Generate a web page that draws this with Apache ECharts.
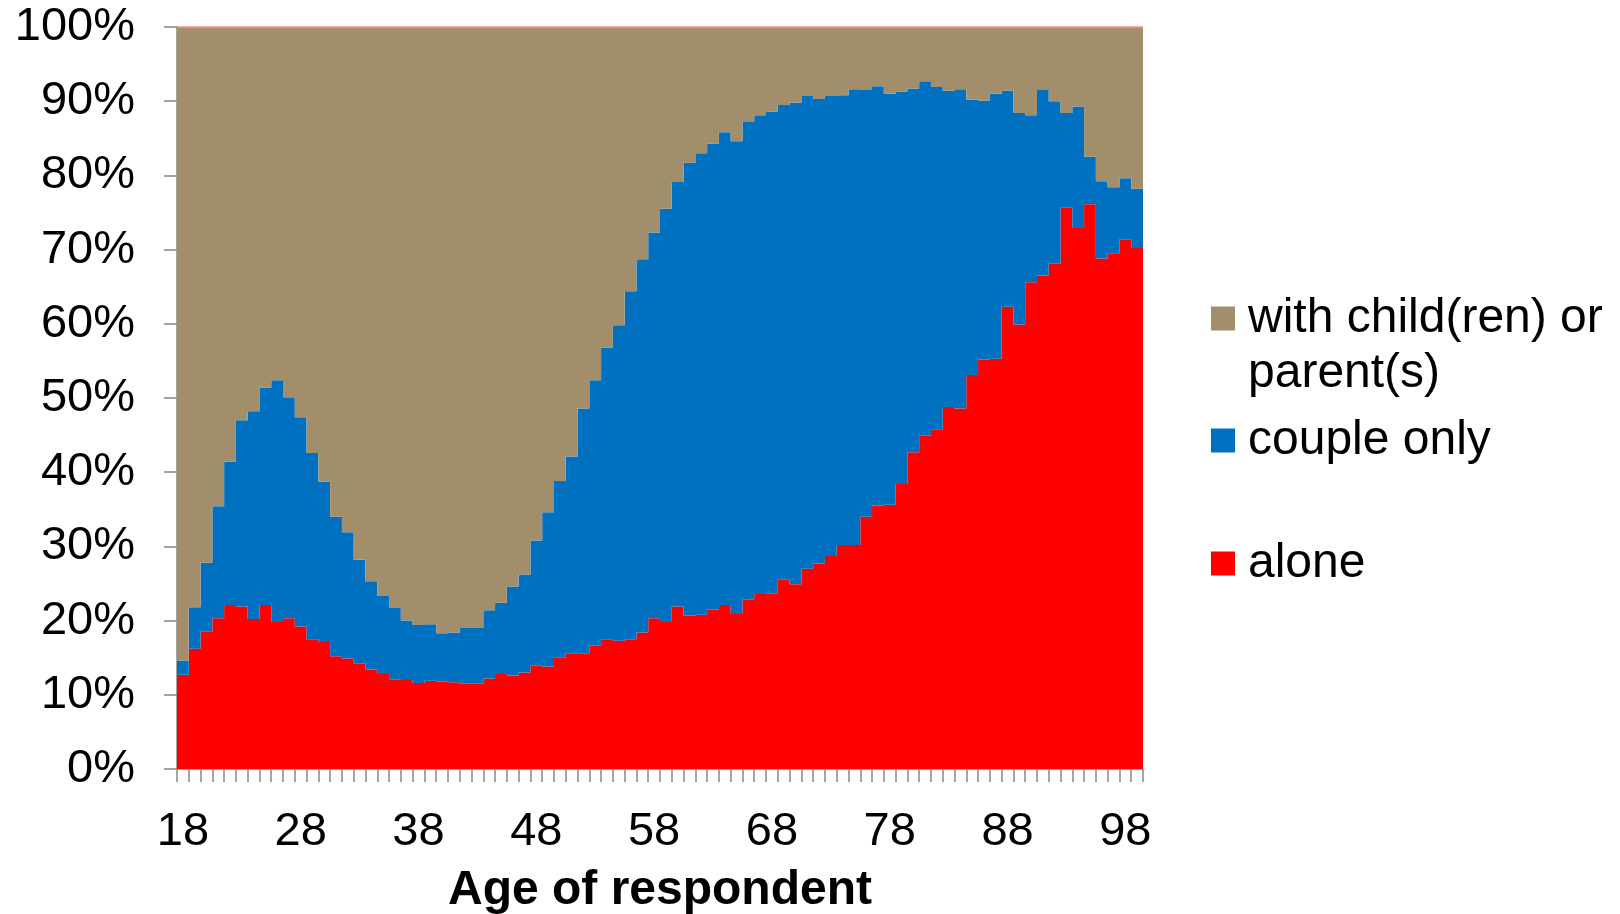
<!DOCTYPE html>
<html>
<head>
<meta charset="utf-8">
<style>
  html, body { margin: 0; padding: 0; background: #fff; }
  #chart { width: 1620px; height: 914px; }
</style>
<script src="https://cdn.jsdelivr.net/npm/echarts@6/dist/echarts.min.js"></script>
</head>
<body>
<div id="chart"></div>
<script>
// age categories 18..99
const ages = ['18','19','20','21','22','23','24','25','26','27','28','29','30','31','32','33','34','35','36','37',
  '38','39','40','41','42','43','44','45','46','47','48','49','50','51','52','53','54','55','56','57',
  '58','59','60','61','62','63','64','65','66','67','68','69','70','71','72','73','74','75','76','77',
  '78','79','80','81','82','83','84','85','86','87','88','89','90','91','92','93','94','95','96','97',
  '98','99'];

// share living alone (%)
const alone = [12.7,16.2,18.5,20.3,22.1,21.9,20.2,22.1,19.8,20.3,19.2,17.5,17.1,15.2,14.9,14.2,13.4,12.8,12.1,12.0,
  11.6,11.9,11.8,11.7,11.5,11.5,12.2,12.8,12.6,13.0,13.9,13.8,15.0,15.6,15.6,16.6,17.5,17.3,17.5,18.4,
  20.3,19.8,21.9,20.7,20.8,21.5,22.1,20.9,22.8,23.6,23.7,25.5,24.9,27.0,27.7,28.7,30.2,30.2,34.0,35.5,
  35.6,38.4,42.7,44.9,45.8,48.8,48.6,53.1,55.2,55.3,62.3,59.9,65.6,66.5,68.1,75.7,72.9,76.1,68.8,69.5,
  71.4,70.2];

// share living as a couple only (%)
const couple = [1.9,5.6,9.3,15.1,19.3,25.1,28.0,29.3,32.6,29.8,28.2,25.1,21.6,18.8,17.0,14.0,11.9,10.5,9.6,8.0,
  7.8,7.6,6.5,6.7,7.5,7.5,9.2,9.6,12.0,13.2,16.9,20.8,23.8,26.5,33.0,35.8,39.3,42.5,46.9,50.3,
  52.0,55.7,57.2,61.0,62.2,62.8,63.7,63.7,64.4,64.5,64.9,64.0,64.9,63.7,62.6,62.0,60.6,61.4,57.5,56.5,
  55.4,52.9,49.0,47.8,46.1,42.6,43.0,37.1,34.9,35.7,29.1,28.5,22.5,25.0,21.9,12.7,16.4,6.4,10.4,8.9,
  8.2,8.0];

// share living with child(ren) or parent(s) (%)
const withChild = [85.4,78.2,72.2,64.6,58.6,53.0,51.8,48.6,47.6,49.9,52.6,57.4,61.3,66.0,68.1,71.8,74.7,76.7,78.3,80.0,
  80.6,80.5,81.7,81.6,81.0,81.0,78.6,77.6,75.4,73.8,69.2,65.4,61.2,57.9,51.4,47.6,43.2,40.2,35.6,31.3,
  27.7,24.5,20.9,18.3,17.0,15.7,14.2,15.4,12.8,11.9,11.4,10.5,10.2,9.3,9.7,9.3,9.2,8.4,8.5,8.0,
  9.0,8.7,8.3,7.3,8.1,8.6,8.4,9.8,9.9,9.0,8.6,11.6,11.9,8.5,10.0,11.6,10.7,17.5,20.8,21.6,
  20.4,21.8];

const FONT = 'Liberation Sans, Arial, sans-serif';
const NAME_CHILD = 'with child(ren) or\nparent(s)';
const NAME_COUPLE = 'couple only';
const NAME_ALONE = 'alone';

function legendAt (name, top, fmt) {
  return {
    data: [name],
    orient: 'vertical',
    left: 1211,
    top: top,
    padding: 0,
    icon: 'rect',
    itemWidth: 24,
    itemHeight: 24,
    selectedMode: false,
    formatter: fmt,
    textStyle: {
      fontFamily: FONT,
      fontSize: 48,
      lineHeight: 55,
      color: '#000',
      padding: [8, 0, 0, 8]
    }
  };
}

// leading empty line keeps the square level with the first text line
const firstLineAtIcon = function (name) { return '\n' + name; };

// large mode draws each series as one path, so neighbouring bars show no seams
function barSeries (name, color, data) {
  return {
    name: name,
    type: 'bar',
    stack: 'all',
    barWidth: '100%',
    large: true,
    largeThreshold: 10,
    itemStyle: { color: color },
    data: data
  };
}

const chart = echarts.init(document.getElementById('chart'));
const topSeries = barSeries(NAME_CHILD, '#A38E6C', withChild);
topSeries.markLine = {
  silent: true, symbol: 'none', label: { show: false },
  lineStyle: { color: '#FF8C8C', width: 1.5, type: 'solid' },
  data: [{ yAxis: 100 }]
};

chart.setOption({
  animation: false,
  backgroundColor: '#fff',
  grid: { left: 177, right: 477, top: 27, bottom: 145, containLabel: false, outerBoundsMode: 'none' },
  legend: [
    legendAt(NAME_CHILD, 232, firstLineAtIcon),
    legendAt(NAME_COUPLE, 409),
    legendAt(NAME_ALONE, 532)
  ],
  xAxis: {
    type: 'category',
    data: ages,
    boundaryGap: true,
    name: 'Age of respondent',
    nameLocation: 'middle',
    nameGap: 98,
    nameTextStyle: { fontFamily: FONT, fontSize: 48, fontWeight: 'bold', color: '#000' },
    splitLine: { show: false },
    axisLine: { lineStyle: { color: '#868686', width: 1.5 } },
    axisTick: { show: true, interval: 0, length: 13, lineStyle: { color: '#868686', width: 1.5 } },
    axisLabel: { interval: 9, margin: 40, fontFamily: FONT, fontSize: 47, color: '#000' }
  },
  yAxis: {
    type: 'value',
    min: 0,
    max: 100,
    interval: 10,
    splitLine: { show: false },
    axisLine: { show: true, lineStyle: { color: '#868686', width: 1.5 } },
    axisTick: { show: true, length: 13, lineStyle: { color: '#868686', width: 1.5 } },
    axisLabel: {
      formatter: '{value}%', margin: 42, padding: [5, 0, 0, 0],
      fontFamily: FONT, fontSize: 47, color: '#000'
    }
  },
  series: [
    barSeries(NAME_ALONE, '#FF0000', alone),
    barSeries(NAME_COUPLE, '#0070C0', couple),
    topSeries
  ]
});
</script>
</body>
</html>
